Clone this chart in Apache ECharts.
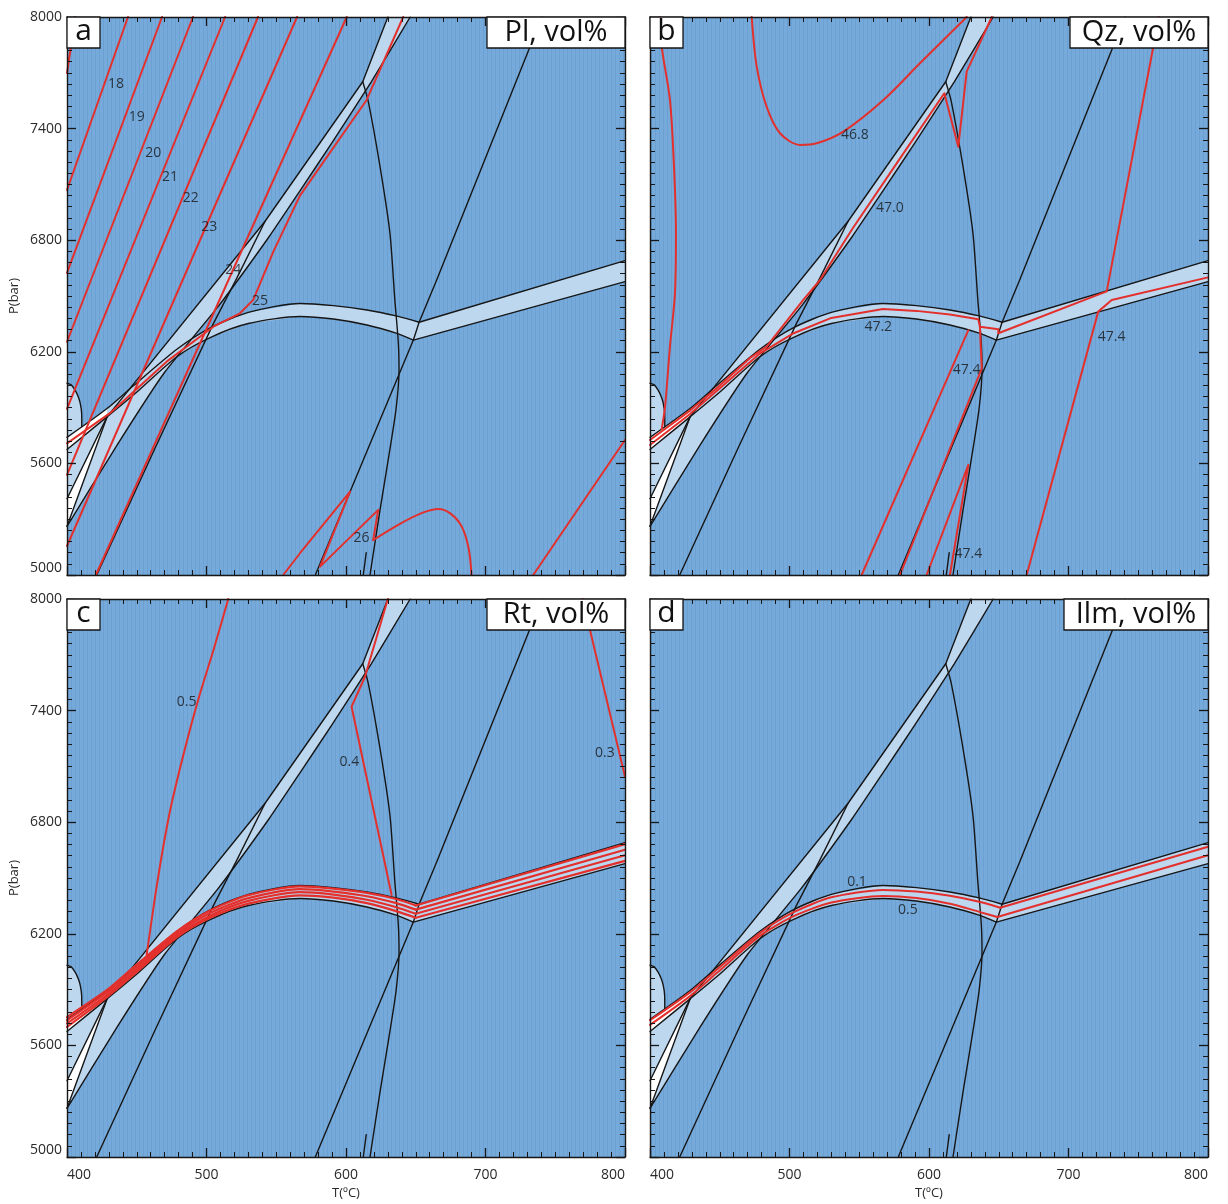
<!DOCTYPE html>
<html>
<head>
<meta charset="utf-8">
<script src="https://cdn.jsdelivr.net/npm/echarts@6/dist/echarts.min.js"></script>
<style>
  html, body { margin: 0; padding: 0; background: #ffffff; }
  #chart { width: 1228px; height: 1204px; }
</style>
</head>
<body>
<div id="chart"></div>
<script>
// ---------- axes ----------
const T_TICKS = [400, 500, 600, 700, 800];          // T (°C)
const P_TICKS = [5000, 5600, 6200, 6800, 7400, 8000]; // P (bar)

// ---------- field boundaries shared by all four sections (T, P) ----------
const arcUpperLeft = [[400,5740],[428.7,5895],[448,6020],[479,6215],[503,6330],[530,6412],[567,6460],[591,6448],[615,6425],[636,6393],[652.4,6359]];
const arcUpperRight = [[652.4,6359],[800,6690]];
const arcLowerLeft = [[400,5675],[428.7,5850],[448,5970],[479,6175],[503,6278],[530,6352],[567,6390],[591,6376],[615,6344],[636,6300],[648.3,6263]];
const arcLowerRight = [[648.3,6263],[800,6577]];
const dArc = [[400,6031],[403,6022],[405.7,5995],[408,5960],[409.5,5923],[410.5,5869],[410.6,5798]];
const sliverUpper = [[400,5410],[428.7,5850]];
const sliverLower = [[400,5262],[428.7,5850]];
const edgeUpper = [[428.7,5850],[542,6902],[612,7652]];
const edgeTop = [[612,7652],[630,8000]];
const edgeLower = [[400,5262],[436,5700],[470,6090],[508,6440],[545,6820],[567,7065],[590,7325],[618,7650],[646,8000]];
const longLine = [[421.3,5000],[463,5680],[505,6353],[522,6600],[542,6902]];
const curveK = [[612,7652],[616,7545],[624.4,7195],[631.5,6837],[635,6479],[637.5,6250],[638,6100],[636,5900],[632,5700],[624.4,5350],[617.2,5000]];
const lineM = [[578,5000],[602.9,5448],[648.3,6263],[652.4,6359],[665,6586],[731.9,7840],[740.5,8000]];
const shortLine = [[612.4,5000],[614.5,5120]];

// ---------- a: Pl, vol% isopleths ----------
const pl17 = [[406,8000],[400,7699]];
const pl18 = [[443.7,8000],[400,7070]];
const pl19 = [[468.1,8000],[400,6624]];
const pl20 = [[490.3,8000],[400,6254]];
const pl21 = [[513.3,8000],[400,5893]];
const pl22 = [[536.9,8000],[400,5538]];
const pl23 = [[564.9,8000],[400,5156]];
const pl24 = [[600.5,8000],[420.7,5000]];
const pl25 = [[400,5708],[430.8,5870],[471.4,6147],[504.9,6335],[524,6407],[533.5,6479],[548,6740],[567,7040],[614.8,7554],[641,8000]];
const pl26zig = [[555,5000],[567,5117],[602.9,5448],[581.4,5045],[623.1,5350],[619.5,5188]];
const pl26dome = [[619.5,5188],[638.7,5275],[655,5335],[666.2,5355],[675,5330],[683,5260],[688,5140],[690,5000]];
const pl27 = [[734.2,5000],[800,5726]];
const plLabels = [[435.1,7640,'18'],[450.0,7461,'19'],[461.9,7267,'20'],[473.8,7141,'21'],[488.7,7025,'22'],[502.0,6873,'23'],[519.2,6640,'24'],[538.3,6475,'25'],[611.2,5197,'26']];

// ---------- b: Qz, vol% isopleths ----------
const qzLeft = [[407.2,8000],[408.4,7840],[414.3,7554],[417.2,7195],[418.6,6837],[417.9,6515],[414.3,6228],[410.8,5905],[408.4,5784]];
const qz468 = [[472.9,8000],[476.5,7733],[483.6,7518],[493.2,7375],[507.5,7312],[519.5,7321],[538.6,7384],[567.3,7554],[593.5,7751],[627,8000]];
const qz470 = [[400,5726],[428.7,5884],[448,6006],[471.7,6167],[483.6,6228],[509.9,6479],[521.9,6586],[545,6860],[579,7237],[611,7590],[621,7303],[627,7706],[645,8000]];
const qz472 = [[400,5699],[428.7,5866],[448,5990],[479,6192],[503,6300],[530,6382],[567,6430],[591,6420],[615,6400],[635.3,6375],[636.5,6335],[649.7,6321],[649.7,6300],[727.4,6525],[760.8,7840],[764.8,8000]];
const qz474a = [[551.7,5000],[628.2,6316]];
const qz474b = [[579.2,5000],[637.8,6111],[636.5,6335]];
const qz474c = [[598.3,5000],[628.2,5592],[615,5000]];
const qz474d = [[670,5000],[721.3,6416],[731,6479],[800,6600]];
const qzLabels = [[546.9,7366,'46.8'],[572.0,6972,'47.0'],[563.6,6335,'47.2'],[627.0,6102,'47.4'],[730.9,6278,'47.4'],[628.2,5113,'47.4']];

// ---------- c: Rt, vol% isopleths ----------
const rt05 = [[515.6,8000],[505,7726],[494,7457],[482.5,7135],[473.5,6848],[465,6489],[457.1,6086]];
const rt04 = [[630,8000],[613.6,7582],[604,7421],[632.7,6409]];
const rt03 = [[769.6,8000],[774.9,7833],[800,7045]];
const rtArcA = [[400,5752],[428.7,5898],[448,6022],[479,6215],[503,6327],[530,6408],[567,6455],[591,6443],[615,6420],[636,6387],[650,6352],[800,6682]];
const rtArcB = [[400,5735],[428.7,5885],[448,6008],[479,6203],[503,6313],[530,6392],[567,6440],[591,6427],[615,6402],[636,6365],[650,6330],[800,6652]];
const rtArcC = [[400,5718],[428.7,5872],[448,5995],[479,6192],[503,6299],[530,6377],[567,6424],[591,6411],[615,6383],[636,6343],[650,6308],[800,6622]];
const rtArcD = [[400,5700],[428.7,5860],[448,5982],[479,6182],[503,6287],[530,6362],[567,6407],[591,6394],[615,6365],[636,6322],[650,6286],[800,6592]];
const rtLabels = [[485.8,7448,'0.5'],[602.4,7125,'0.4'],[785.6,7170,'0.3']];

// ---------- d: Ilm, vol% isopleths ----------
const ilm01 = [[400,5735],[428.7,5885],[448,6008],[479,6205],[503,6316],[530,6396],[567,6436],[591,6427],[615,6404],[636,6372],[651,6340],[800,6668]];
const ilm05 = [[400,5710],[428.7,5865],[448,5990],[479,6190],[503,6295],[530,6368],[567,6403],[591,6392],[615,6362],[636,6318],[649,6290],[800,6622]];
const ilmLabels = [[548.4,6479,'0.1'],[584.9,6328,'0.5']];

// ---------- layout & style ----------
const PANELS = [
  { left: 67,  top: 17,  letter: 'a', title: 'Pl, vol%',  titleLeft: 487,  yLabels: true,  xLabels: false },
  { left: 650, top: 17,  letter: 'b', title: 'Qz, vol%',  titleLeft: 1070, yLabels: false, xLabels: false },
  { left: 67,  top: 599, letter: 'c', title: 'Rt, vol%',  titleLeft: 487,  yLabels: true,  xLabels: true },
  { left: 650, top: 599, letter: 'd', title: 'Ilm, vol%', titleLeft: 1064, yLabels: false, xLabels: true }
];
const SIZE = 558;
const FONT = '"Open Sans", "Noto Sans", sans-serif';
const INK = '#161616';
const RED = '#e3302c';
const FIELD = '#bdd7ef';
const WHITE = '#ffffff';

// faint vertical striping of the base field
const stripeTile = (function () {
  const c = document.createElement('canvas');
  c.width = 4; c.height = 8;
  const ctx = c.getContext('2d');
  ctx.fillStyle = '#75aadb';
  ctx.fillRect(0, 0, 4, 8);
  ctx.fillStyle = '#6c9fd2';
  ctx.fillRect(3, 0, 1, 8);
  return c;
})();

const tMin = T_TICKS[0], tMax = T_TICKS[T_TICKS.length - 1];
const pMin = P_TICKS[0], pMax = P_TICKS[P_TICKS.length - 1];

// polygons assembled from the boundary arrays
const arcBandPoly = arcUpperLeft.concat(arcUpperRight.slice(1), arcLowerRight.slice().reverse(), arcLowerLeft.slice(0, -1).reverse());
const arcWhitePoly = [arcUpperLeft[0], arcUpperLeft[1], arcLowerLeft[1], arcLowerLeft[0]];
const diagPoly = edgeUpper.concat(edgeTop.slice(1), [[edgeLower[edgeLower.length - 1][0], pMax]], edgeLower.slice(0, -1).reverse(), [arcLowerLeft[0]]);
const dPoly = dArc.concat([arcUpperLeft[0]]);
const sliverPoly = [sliverUpper[0], sliverUpper[1], sliverLower[0]];

function bgSeries(g) {
  return {
    type: 'custom', xAxisIndex: 2 * g, yAxisIndex: 2 * g, silent: true, z: 1,
    data: [[tMin, pMin]],
    renderItem: function (params, api) {
      const a = api.coord([tMin, pMax]);
      const b = api.coord([tMax, pMin]);
      return { type: 'rect', shape: { x: a[0], y: a[1], width: b[0] - a[0], height: b[1] - a[1] },
               style: { fill: { image: stripeTile, repeat: 'repeat' } } };
    }
  };
}
function polySeries(g, pts, fill) {
  return {
    type: 'custom', xAxisIndex: 2 * g, yAxisIndex: 2 * g, silent: true, z: 2,
    data: [pts[0]],
    renderItem: function (params, api) {
      return { type: 'polygon', shape: { points: pts.map(function (p) { return api.coord(p); }) }, style: { fill: fill } };
    }
  };
}
function lineSeries(g, pts, color, width, z, smooth) {
  const s = {
    type: 'line', xAxisIndex: 2 * g, yAxisIndex: 2 * g, data: pts, silent: true,
    symbol: 'none', showSymbol: false, z: z, clip: true,
    lineStyle: { color: color, width: width, cap: 'round', join: 'round' }
  };
  if (smooth) s.smooth = smooth;
  return s;
}
const black = (g, pts, smooth) => lineSeries(g, pts, INK, 1.4, 3, smooth);
const red = (g, pts, smooth, w) => lineSeries(g, pts, RED, w || 2, 4, smooth);
function labelSeries(g, items) {
  return {
    type: 'scatter', xAxisIndex: 2 * g, yAxisIndex: 2 * g, silent: true, z: 6,
    symbol: 'circle', symbolSize: 1, itemStyle: { color: 'transparent' },
    data: items.map(function (d) { return { value: [d[0], d[1]], name: d[2] }; }),
    label: { show: true, position: 'inside', formatter: '{b}', color: '#151515', fontSize: 14, fontFamily: FONT }
  };
}

const series = [];
PANELS.forEach(function (p, g) {
  series.push(bgSeries(g));
  series.push(polySeries(g, arcBandPoly, FIELD));
  series.push(polySeries(g, diagPoly, FIELD));
  series.push(polySeries(g, dPoly, FIELD));
  series.push(polySeries(g, arcWhitePoly, WHITE));
  series.push(polySeries(g, sliverPoly, WHITE));
  series.push(black(g, arcUpperLeft, 0.25));
  series.push(black(g, arcUpperRight));
  series.push(black(g, arcLowerLeft, 0.25));
  series.push(black(g, arcLowerRight));
  series.push(black(g, dArc, 0.3));
  series.push(black(g, sliverUpper));
  series.push(black(g, sliverLower));
  series.push(black(g, edgeUpper));
  series.push(black(g, edgeTop));
  series.push(black(g, edgeLower, 0.15));
  series.push(black(g, longLine));
  series.push(black(g, curveK, 0.25));
  series.push(black(g, lineM));
  series.push(black(g, shortLine));
});
// a
[pl17, pl18, pl19, pl20, pl21, pl22, pl23, pl24, pl25, pl26zig, pl27].forEach(d => series.push(red(0, d)));
series.push(red(0, pl26dome, 0.3));
series.push(labelSeries(0, plLabels));
// b
series.push(red(1, qzLeft, 0.3));
series.push(red(1, qz468, 0.3));
[qz470, qz472, qz474a, qz474b, qz474c, qz474d].forEach(d => series.push(red(1, d)));
series.push(labelSeries(1, qzLabels));
// c
series.push(red(2, rt05, 0.3));
series.push(red(2, rt04));
series.push(red(2, rt03));
[rtArcA, rtArcB, rtArcC, rtArcD].forEach(function (d) {
  series.push(red(2, d.slice(0, -1), 0.25, 2.2));
  series.push(red(2, d.slice(-2), 0, 2.2));
});
series.push(labelSeries(2, rtLabels));
// d
[ilm01, ilm05].forEach(function (d) {
  series.push(red(3, d.slice(0, -1), 0.25));
  series.push(red(3, d.slice(-2)));
});
series.push(labelSeries(3, ilmLabels));

// ---------- axes on all four sides, ticks pointing inward ----------
const axisLineStyle = { color: INK, width: 1.4 };
const plain = v => String(v);
function xAxisDef(g, pos, labels) {
  return {
    gridIndex: g, type: 'value', position: pos, min: tMin, max: tMax, interval: T_TICKS[1] - T_TICKS[0], z: 10,
    axisLine: { show: true, onZero: false, lineStyle: axisLineStyle },
    axisTick: { show: true, inside: true, length: 9, lineStyle: { color: INK, width: 1.3 } },
    minorTick: { show: true, splitNumber: 10, length: 5, lineStyle: { color: INK, width: 1 } },
    splitLine: { show: false }, minorSplitLine: { show: false },
    axisLabel: { show: labels, margin: 11, color: '#2a2a2a', fontSize: 14, fontFamily: FONT, formatter: plain,
                 alignMinLabel: 'left', alignMaxLabel: 'right' },
    name: labels ? 'T(ºC)' : '', nameLocation: 'middle', nameGap: 30,
    nameTextStyle: { color: '#2a2a2a', fontSize: 13, fontFamily: FONT }
  };
}
function yAxisDef(g, pos, labels) {
  return {
    gridIndex: g, type: 'value', position: pos, min: pMin, max: pMax, interval: P_TICKS[1] - P_TICKS[0], z: 10,
    axisLine: { show: true, onZero: false, lineStyle: axisLineStyle },
    axisTick: { show: true, inside: true, length: 9, lineStyle: { color: INK, width: 1.3 } },
    minorTick: { show: true, splitNumber: 10, length: 5, lineStyle: { color: INK, width: 1 } },
    splitLine: { show: false }, minorSplitLine: { show: false },
    axisLabel: { show: labels, margin: 5, color: '#2a2a2a', fontSize: 14, fontFamily: FONT, formatter: plain,
                 verticalAlignMinLabel: 'bottom' },
    name: labels ? 'P(bar)' : '', nameLocation: 'middle', nameGap: 46, nameRotate: 90,
    nameTextStyle: { color: '#2a2a2a', fontSize: 13, fontFamily: FONT }
  };
}
const xAxes = [], yAxes = [];
PANELS.forEach(function (p, g) {
  xAxes.push(xAxisDef(g, 'bottom', p.xLabels));
  xAxes.push(xAxisDef(g, 'top', false));
  yAxes.push(yAxisDef(g, 'left', p.yLabels));
  yAxes.push(yAxisDef(g, 'right', false));
});

// ---------- panel letters and mineral titles ----------
const graphics = [];
PANELS.forEach(function (p) {
  graphics.push({ type: 'rect', z: 100, shape: { x: p.left, y: p.top, width: 33, height: 31 },
                  style: { fill: '#ffffff', stroke: INK, lineWidth: 1.3 } });
  graphics.push({ type: 'text', z: 101, x: p.left + 16.5, y: p.top + 14,
                  style: { text: p.letter, fontSize: 30, fontFamily: FONT, fill: '#111', align: 'center', verticalAlign: 'middle' } });
  const w = p.left + SIZE - p.titleLeft;
  graphics.push({ type: 'rect', z: 100, shape: { x: p.titleLeft, y: p.top, width: w, height: 31 },
                  style: { fill: '#ffffff', stroke: INK, lineWidth: 1.3 } });
  graphics.push({ type: 'text', z: 101, x: p.titleLeft + w / 2, y: p.top + 15.5,
                  style: { text: p.title, fontSize: 29, fontFamily: FONT, fill: '#111', align: 'center', verticalAlign: 'middle' } });
});

const chart = echarts.init(document.getElementById('chart'), null, { renderer: 'canvas', width: 1228, height: 1204 });
chart.setOption({
  animation: false,
  backgroundColor: '#ffffff',
  grid: PANELS.map(p => ({ left: p.left, top: p.top, width: SIZE, height: SIZE, containLabel: false, outerBoundsMode: 'none', show: false })),
  xAxis: xAxes,
  yAxis: yAxes,
  series: series,
  graphic: graphics
});
</script>
</body>
</html>
